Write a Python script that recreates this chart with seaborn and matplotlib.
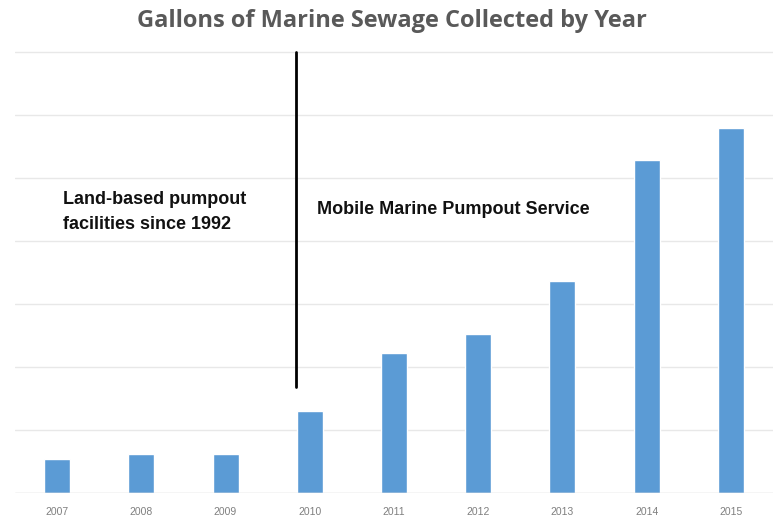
import matplotlib
matplotlib.use("Agg")
import matplotlib.pyplot as plt
import seaborn as sns
import pandas as pd

# data (units = gridline steps)
years = ["2007", "2008", "2009", "2010", "2011", "2012", "2013", "2014", "2015"]
gallons = [0.54, 0.62, 0.62, 1.30, 2.22, 2.52, 3.37, 5.29, 5.79]
grid_levels = [1, 2, 3, 4, 5, 6, 7]

df = pd.DataFrame({"Year": years, "Gallons": gallons})

sns.set_theme(style="white")
plt.rcParams["font.family"] = ["Liberation Sans", "DejaVu Sans"]

fig = plt.figure(figsize=(7.73, 5.23), dpi=100)
ax = fig.add_axes([15 / 773, 30 / 523, 758 / 773, (493 - 46) / 523])

sns.barplot(data=df, x="Year", y="Gallons", color="#5B9BD5", saturation=1,
            width=0.31, ax=ax, zorder=3)

for g in grid_levels:
    ax.axhline(g, color="#e8e8e8", lw=1, zorder=1)
ax.axhline(0, color="#d0d0d0", lw=1, zorder=4)

ax.set_ylim(0, 7.1)
ax.set_xlim(-0.5, 8.5)
ax.set_yticks([])
ax.set_xlabel("")
ax.set_ylabel("")
ax.tick_params(axis="x", length=0, pad=10, labelsize=7.5, labelcolor="#7f7f7f")
for s in ax.spines.values():
    s.set_visible(False)

# divider between the two programmes
ax.plot([2.84, 2.84], [1.68, 7.0], color="black", lw=2, zorder=5)

ax.text(0.07, 4.46, "Land-based pumpout\nfacilities since 1992", fontsize=13,
        fontweight="bold", color="#111111", va="center", ha="left", linespacing=1.6)
ax.text(3.08, 4.51, "Mobile Marine Pumpout Service", fontsize=13,
        fontweight="bold", color="#111111", va="center", ha="left")

fig.text(0.507, 1 - 21 / 523, "Gallons of Marine Sewage Collected by Year",
         ha="center", va="center", fontsize=17, fontweight="bold",
         color="#595959", family=["Open Sans", "DejaVu Sans"])

fig.savefig("out.png", dpi=100)
